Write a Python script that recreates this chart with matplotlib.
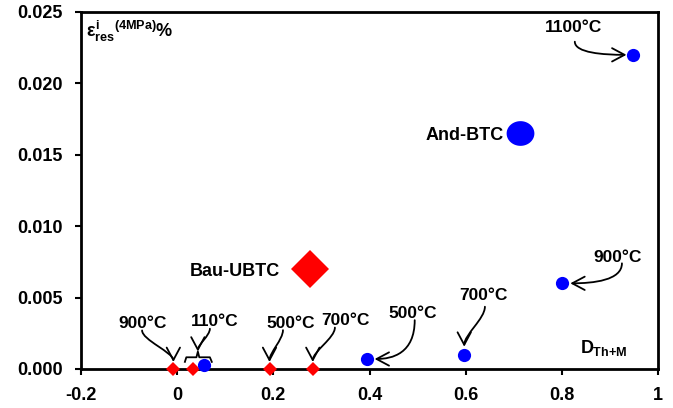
import numpy as np
import matplotlib.pyplot as plt
from matplotlib.path import Path
from matplotlib.patches import FancyArrowPatch

plt.rcParams['font.family'] = ['Liberation Sans', 'DejaVu Sans']
plt.rcParams['font.weight'] = 'bold'
plt.rcParams['mathtext.fontset'] = 'custom'
plt.rcParams['mathtext.rm'] = 'Liberation Sans:bold'
plt.rcParams['mathtext.it'] = 'Liberation Sans:bold'
plt.rcParams['mathtext.bf'] = 'Liberation Sans:bold'

# DATA ######
# Bau samples (red diamonds) and And samples (blue circles)
bau_x = [-0.008, 0.032, 0.192, 0.282]
bau_y = [0.0, 0.0, 0.0, 0.0]
and_x = [0.056, 0.394, 0.597, 0.801, 0.949]
and_y = [0.0003, 0.0007, 0.001, 0.006, 0.022]
bau_ubtc = (0.277, 0.007)
and_btc = (0.712, 0.0165)

x_ticks = [-0.2, 0, 0.2, 0.4, 0.6, 0.8, 1]
y_ticks = [0.000, 0.005, 0.010, 0.015, 0.020, 0.025]

# temperature labels
temp_labels = ['900°C', '110°C', '500°C', '700°C', '500°C', '700°C', '900°C', '1100°C']
temp_text = [(-0.073, 0.00322), (0.079, 0.00336), (0.237, 0.00322), (0.349, 0.00343),
             (0.490, 0.00392), (0.636, 0.00518), (0.915, 0.00784), (0.825, 0.02388)]
# where each arrow leaves its label
temp_start = [(-0.073, 0.00270), (0.068, 0.00282), (0.220, 0.00272), (0.328, 0.00290),
              (0.494, 0.00342), (0.640, 0.00436), (0.925, 0.00740), (0.827, 0.02292)]

# bracket grouping the two 110°C samples
bracket_x = [0.016, 0.019, 0.040, 0.043, 0.046, 0.068, 0.072]
bracket_y = [0.0005, 0.00082, 0.00082, 0.00122, 0.00082, 0.00082, 0.0005]

# arrow targets: samples, or top of the bracket
temp_target = [(bau_x[0], bau_y[0]), (bracket_x[3], bracket_y[3]),
               (bau_x[2], bau_y[2]), (bau_x[3], bau_y[3]),
               (and_x[1], and_y[1]), (and_x[2], and_y[2]),
               (and_x[3], and_y[3]), (and_x[4], and_y[4])]
# v = arrives from above, r = from the right, l = from the left
temp_mode = ['v', 'v', 'v', 'v', 'r', 'v', 'r', 'l']
temp_gap = [7, 0, 7, 7, 8, 8, 8, 7]   # pixels left free around the marker

# PLOT ######
W, H = 673, 408
ax_box = [0.1204, 0.0956, 0.8573, 0.875]
fig = plt.figure(figsize=(W / 100, H / 100), dpi=100)
ax = fig.add_axes(ax_box)
x_lim = (-0.2, 1)
y_lim = (0, 0.025)
px_x = (x_lim[1] - x_lim[0]) / (ax_box[2] * W)
px_y = (y_lim[1] - y_lim[0]) / (ax_box[3] * H)

t = np.linspace(0, 2 * np.pi, 60)
ellipse = list(zip(np.cos(t), 0.89 * np.sin(t)))

ax.plot(bau_x, bau_y, 'D', color='#ff0000', ms=7.5, mew=0, clip_on=False, zorder=5)
ax.plot(and_x, and_y, 'o', color='#0000ff', ms=9.5, mew=0, clip_on=False, zorder=5)
ax.plot(*bau_ubtc, 'D', color='#ff0000', ms=19, mew=0, zorder=5)
ax.plot(*and_btc, marker=ellipse, color='#0000ff', ms=20, mew=0, zorder=5)

ax.plot(bracket_x, bracket_y, color='black', lw=1.3, zorder=4)

for lab, (lx, ly) in zip(temp_labels, temp_text):
    ax.text(lx, ly, lab, ha='center', va='center', fontsize=12.5, fontweight='bold', zorder=3)

for (sx, sy), (tx, ty), mode, g in zip(temp_start, temp_target, temp_mode, temp_gap):
    if mode == 'v':
        ex, ey = tx, ty + g * px_y
        h = sy - ey
        c1 = (sx, sy - 0.3 * h)
        c2 = (ex, ey + 0.3 * h)
    else:
        ex = tx + g * px_x if mode == 'r' else tx - g * px_x
        ey = ty
        c1 = (sx, ey + 0.15 * (sy - ey))
        c2 = (ex + 0.45 * (sx - ex), ey)
    path = Path([(sx, sy), c1, c2, (ex, ey)],
                [Path.MOVETO, Path.CURVE4, Path.CURVE4, Path.CURVE4])
    arrow = FancyArrowPatch(path=path, arrowstyle='->,head_length=0.75,head_width=0.4',
                            mutation_scale=12, color='black', lw=1.3,
                            transform=ax.transData, zorder=4)
    ax.add_patch(arrow)

ax.text(0.214, 0.00653, 'Bau-UBTC', ha='right', va='baseline', fontsize=13, fontweight='bold')
ax.text(0.680, 0.01604, 'And-BTC', ha='right', va='baseline', fontsize=13, fontweight='bold')
ax.text(-0.19, 0.02325, r'$\varepsilon^{i}_{res}{}^{(4MPa)}\%$', ha='left', va='baseline',
        fontsize=13)
ax.text(0.838, 0.00112, r'$D_{Th{+}M}$', ha='left', va='baseline', fontsize=13)

ax.set_xlim(*x_lim)
ax.set_ylim(*y_lim)
ax.set_xticks(x_ticks)
ax.set_xticklabels(['{:g}'.format(v) for v in x_ticks])
ax.set_yticks(y_ticks)
ax.set_yticklabels(['{:.3f}'.format(v) for v in y_ticks])
ax.tick_params(direction='out', length=4, width=1.5, labelsize=13, pad=9)
for s in ax.spines.values():
    s.set_linewidth(2)

fig.savefig('out.png', dpi=100)
